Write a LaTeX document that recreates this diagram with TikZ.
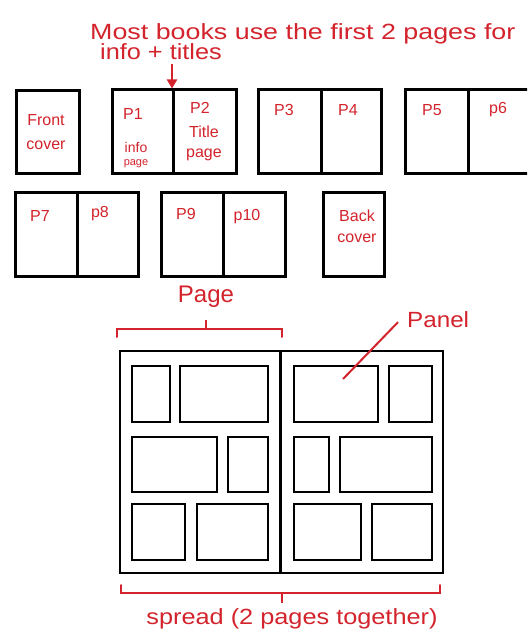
\documentclass[tikz,border=0pt]{standalone}
\usepackage{fontspec}
\setmainfont{Liberation Sans}
\usetikzlibrary{arrows.meta}
\definecolor{pen}{HTML}{D3232C}
\tikzset{
  pagebox/.style={draw=black, line width=3pt, inner sep=0pt, fill=white},
  panelbox/.style={draw=black, line width=2.2pt, inner sep=0pt},
  redtxt/.style={text=pen, inner sep=0pt, align=left},
  redline/.style={draw=pen, line width=2pt},
}
\newcommand{\fs}[1]{\fontsize{#1}{#1}\selectfont}
\begin{document}
\begin{tikzpicture}[x=1pt,y=-1pt]
\useasboundingbox (0,0) rectangle (527,636);
\clip (0,0) rectangle (527,636);
% ---- top note
\node[redtxt, anchor=base west, font=\fs{22}] (note1) at (90,40) {\scalebox{1.22}[1]{Most books use the first 2 pages for}};
\node[redtxt, anchor=base west, font=\fs{22}] (note2) at (100,60) {\scalebox{1.15}[1]{info + titles}};
% ---- row 1
\node[pagebox, minimum width=63, minimum height=83] (front) at (47.5,132.5) {};
\node[pagebox, minimum width=124, minimum height=84] (s1) at (174,132) {};
\node[pagebox, minimum width=123, minimum height=84] (s2) at (319.5,132) {};
\node[pagebox, minimum width=130, minimum height=84] (s3) at (470,132) {};
\draw[line width=3pt] (173,90) -- (173,174);
\draw[line width=3pt] (321,90) -- (321,174);
\draw[line width=3pt] (468,90) -- (468,174);
\coordinate (arrtop) at (172,64);
\draw[draw=pen, line width=2pt, -{Triangle[length=9pt,width=10pt]}] (arrtop) -- (s1.north -| arrtop);
% labels row 1
\node[redtxt, align=center, font=\fs{16}] (lfront) at (46,132) {Front\\[8pt]cover};
\node[redtxt, font=\fs{16}] (lp1) at (133,114) {P1};
\node[redtxt, align=center, font=\fs{14}, anchor=north] (linfo) at (136,142) {info\\[-1pt]{\fs{11}page}};
\node[redtxt, font=\fs{16}] (lp2) at (200,108) {P2};
\node[redtxt, align=center, font=\fs{16}, anchor=north] (ltitle) at (204,126) {Title\\[4pt]page};
\node[redtxt, font=\fs{16}] (lp3) at (284,110) {P3};
\node[redtxt, font=\fs{16}] (lp4) at (348,110) {P4};
\node[redtxt, font=\fs{16}] (lp5) at (432,110) {P5};
\node[redtxt, font=\fs{16}] (lp6) at (498,110) {p6};
% ---- row 2
\node[pagebox, minimum width=123, minimum height=83] (s4) at (76.5,234.5) {};
\node[pagebox, minimum width=124, minimum height=83] (s5) at (223,234.5) {};
\node[pagebox, minimum width=61, minimum height=83] (back) at (353.5,234.5) {};
\draw[line width=3pt] (77,193) -- (77,276);
\draw[line width=3pt] (223,193) -- (223,276);
\node[redtxt, font=\fs{16}] (lp7) at (40,216) {P7};
\node[redtxt, font=\fs{16}] (lp8) at (100,214) {p8};
\node[redtxt, font=\fs{16}] (lp9) at (186,214) {P9};
\node[redtxt, font=\fs{16}] (lp10) at (247,217) {p10};
\node[redtxt, align=center, font=\fs{16}] (lback) at (357,226) {Back\\[5pt]cover};
% ---- spread
\node[pagebox, line width=2.6pt, minimum width=323, minimum height=222] (spread) at (281.5,462) {};
\draw[line width=2.6pt] (spread.north) ++(-1,0) -- ++(0,222);
% left page panels
\draw[line width=2.2pt]
  (132,366) rectangle (170,422)
  (180,366) rectangle (268,422)
  (132,437) rectangle (217,492)
  (228,437) rectangle (268,492)
  (132,504) rectangle (185,560)
  (197,504) rectangle (268,560);
% right page panels
\node[panelbox, minimum width=84, minimum height=56] (panelG) at (336,394) {};
\draw[line width=2.2pt]
  (389,366) rectangle (432,422)
  (294,437) rectangle (329,492)
  (340,437) rectangle (432,492)
  (294,504) rectangle (361,560)
  (372,504) rectangle (432,560);
% page bracket
\draw[redline, line cap=round] (117,337) -- (117,329) -- (282,329) -- (282,337);
\draw[redline] (206,329) -- (206,320);
\node[redtxt, font=\fs{24}] (lpage) at (206,297) {Page};
% panel label
\node[redtxt, font=\fs{22}, anchor=base west] (lpanel) at (407,327) {\scalebox{1.1}[1]{Panel}};
\coordinate (ptip) at (343,379);
\draw[redline] (lpanel.west) ++(-9,3) -- (ptip);
% spread bracket
\draw[redline, line cap=round] (121,585) -- (121,593) -- (440,593) -- (440,585);
\draw[redline] (282,593) -- (282,603);
\node[redtxt, font=\fs{22}] (lspread) at (292,619) {\scalebox{1.15}[1]{spread (2 pages together)}};
\end{tikzpicture}
\end{document}
